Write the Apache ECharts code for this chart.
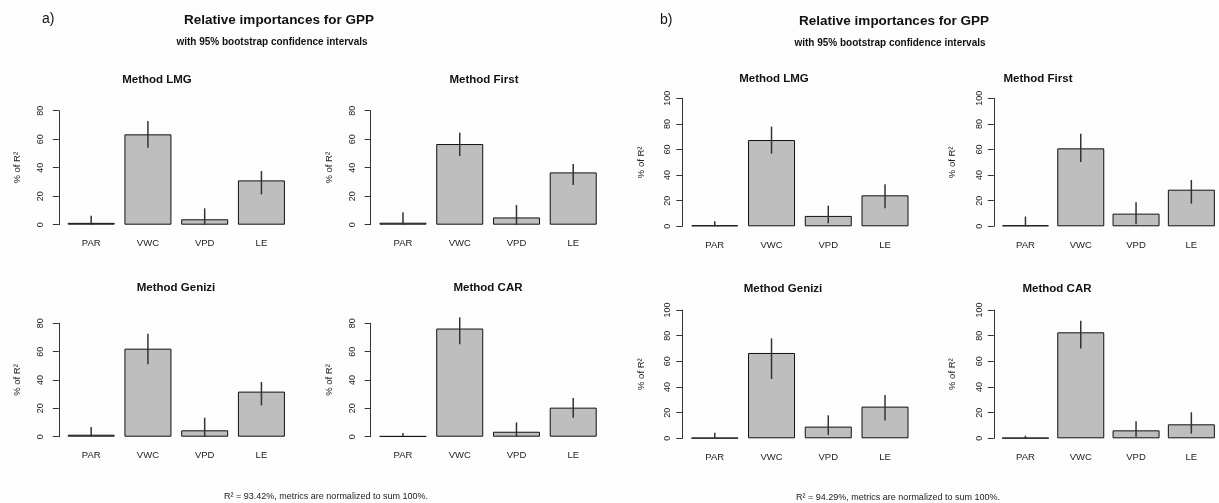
<!DOCTYPE html>
<html>
<head>
<meta charset="utf-8">
<script src="https://cdn.jsdelivr.net/npm/echarts@6/dist/echarts.min.js"></script>
<style>
html,body{margin:0;padding:0;background:#fdfdfd;}
#chart{width:1219px;height:503px;}
</style>
</head>
<body>
<div id="chart"></div>
<script>
// ---- data ----
const categories = ['PAR', 'VWC', 'VPD', 'LE'];
const yTicksA = [0, 20, 40, 60, 80];
const yTicksB = [0, 20, 40, 60, 80, 100];

// panel a)
const aLMG      = [1.3, 63.4, 3.8, 31.1];
const aLMGLow   = [0, 54.0, 0, 21.3];
const aLMGHigh  = [6.3, 72.8, 11.5, 37.7];
const aFirst     = [1.4, 56.6, 5.1, 36.7];
const aFirstLow  = [0, 48.2, 0, 27.8];
const aFirstHigh = [8.7, 64.6, 13.8, 42.6];
const aGenizi     = [1.4, 62.1, 4.5, 31.8];
const aGeniziLow  = [0, 51.1, 0, 22.1];
const aGeniziHigh = [6.8, 72.7, 13.4, 38.6];
const aCAR     = [0.4, 76.3, 3.5, 20.5];
const aCARLow  = [0, 65.2, 0, 13.4];
const aCARHigh = [2.6, 84.2, 10.1, 27.3];

// panel b)
const bLMG      = [0.8, 67.4, 8.1, 24.2];
const bLMGLow   = [0, 56.8, 2.3, 14.1];
const bLMGHigh  = [3.9, 77.9, 16.1, 32.8];
const bFirst     = [0.8, 60.9, 9.9, 28.6];
const bFirstLow  = [0, 50.3, 1.6, 17.7];
const bFirstHigh = [7.6, 72.4, 18.8, 36.2];
const bGenizi     = [0.3, 66.5, 9.1, 24.7];
const bGeniziLow  = [0, 46.2, 2.6, 13.8];
const bGeniziHigh = [4.4, 77.9, 17.9, 33.8];
const bCAR     = [0.3, 82.6, 6.2, 10.9];
const bCARLow  = [0, 69.9, 1.3, 3.6];
const bCARHigh = [2.0, 91.7, 13.2, 20.3];

const mainTitle = 'Relative importances for GPP';
const subTitle = 'with 95% bootstrap confidence intervals';
const footA = 'R² = 93.42%, metrics are normalized to sum 100%.';
const footB = 'R² = 94.29%, metrics are normalized to sum 100%.';
const yName = '% of R²';

// ---- layout ----
const panels = [
  {name: 'Method LMG',    v: aLMG,    lo: aLMGLow,    hi: aLMGHigh,    ticks: yTicksA, left: 62.8,  top: 110.7, h: 114,   tx: 152,  ty: 75,  lm: 14},
  {name: 'Method First',  v: aFirst,  lo: aFirstLow,  hi: aFirstHigh,  ticks: yTicksA, left: 374.6, top: 110.7, h: 114,   tx: 479,  ty: 75,  lm: 14},
  {name: 'Method Genizi', v: aGenizi, lo: aGeniziLow, hi: aGeniziHigh, ticks: yTicksA, left: 62.8,  top: 323.3, h: 113.4, tx: 171,  ty: 283, lm: 14},
  {name: 'Method CAR',    v: aCAR,    lo: aCARLow,    hi: aCARHigh,    ticks: yTicksA, left: 374.6, top: 323.3, h: 113.4, tx: 483,  ty: 283, lm: 14},
  {name: 'Method LMG',    v: bLMG,    lo: bLMGLow,    hi: bLMGHigh,    ticks: yTicksB, left: 686.4, top: 98.3,  h: 128,   tx: 769,  ty: 74,  lm: 10},
  {name: 'Method First',  v: bFirst,  lo: bFirstLow,  hi: bFirstHigh,  ticks: yTicksB, left: 997.8, top: 98.3,  h: 128,   tx: 1033, ty: 74,  lm: 10},
  {name: 'Method Genizi', v: bGenizi, lo: bGeniziLow, hi: bGeniziHigh, ticks: yTicksB, left: 686.4, top: 310,   h: 128.3, tx: 778,  ty: 284, lm: 10},
  {name: 'Method CAR',    v: bCAR,    lo: bCARLow,    hi: bCARHigh,    ticks: yTicksB, left: 997.8, top: 310,   h: 128.3, tx: 1052, ty: 284, lm: 10}
];

const FONT = 'Liberation Sans, Arial, Helvetica, sans-serif';
const grids = [], xAxes = [], yAxes = [], series = [];
const titles = [
  {text: 'a)', left: 37, top: 7, textStyle: {fontSize: 14, fontWeight: 'normal', color: '#111', fontFamily: FONT}},
  {text: 'b)', left: 655, top: 8, textStyle: {fontSize: 14, fontWeight: 'normal', color: '#111', fontFamily: FONT}},
  {text: mainTitle, left: 274, top: 8, textAlign: 'center', textStyle: {fontSize: 13.5, fontWeight: 'bold', color: '#111', fontFamily: FONT}},
  {text: mainTitle, left: 889, top: 9, textAlign: 'center', textStyle: {fontSize: 13.5, fontWeight: 'bold', color: '#111', fontFamily: FONT}},
  {text: subTitle, left: 267, top: 32, textAlign: 'center', textStyle: {fontSize: 10, fontWeight: 'bold', color: '#111', fontFamily: FONT}},
  {text: subTitle, left: 885, top: 33, textAlign: 'center', textStyle: {fontSize: 10, fontWeight: 'bold', color: '#111', fontFamily: FONT}},
  {text: footA, left: 321, top: 487, textAlign: 'center', textStyle: {fontSize: 9, fontWeight: 'normal', color: '#222', fontFamily: FONT}},
  {text: footB, left: 893, top: 488, textAlign: 'center', textStyle: {fontSize: 9, fontWeight: 'normal', color: '#222', fontFamily: FONT}}
];

panels.forEach((p, i) => {
  const ymax = p.ticks[p.ticks.length - 1];
  grids.push({left: p.left, top: p.top, width: 227, height: p.h, containLabel: false});
  titles.push({text: p.name, left: p.tx, top: p.ty - 6, textAlign: 'center',
    textStyle: {fontSize: 11.5, fontWeight: 'bold', color: '#111', fontFamily: FONT}});
  xAxes.push({type: 'category', gridIndex: i, data: categories,
    axisLine: {show: false}, axisTick: {show: false},
    axisLabel: {margin: 14, fontSize: 9.5, color: '#222', fontFamily: FONT}});
  yAxes.push({type: 'value', gridIndex: i, min: p.ticks[0], max: ymax, interval: p.ticks[1] - p.ticks[0],
    offset: 4,
    name: yName, nameLocation: 'middle', nameRotate: 90, nameGap: 36,
    nameTextStyle: {fontSize: 9.5, color: '#222', fontFamily: FONT},
    axisLine: {show: true, lineStyle: {color: '#333', width: 1}},
    axisTick: {show: true, length: 6, lineStyle: {color: '#333', width: 1}},
    axisLabel: {rotate: 90, margin: p.lm, fontSize: 9, color: '#222', fontFamily: FONT},
    splitLine: {show: false}});
  series.push({type: 'bar', xAxisIndex: i, yAxisIndex: i, data: p.v, barWidth: 47,
    itemStyle: {color: '#bebebe', borderColor: '#111', borderWidth: 1}, silent: true, animation: false});
  series.push({type: 'custom', xAxisIndex: i, yAxisIndex: i, clip: false, silent: true, animation: false, z: 5,
    data: categories.map((c, k) => [k, p.lo[k], p.hi[k]]),
    renderItem: function (params, api) {
      const a = api.coord([api.value(0), api.value(1)]);
      const b = api.coord([api.value(0), api.value(2)]);
      return {type: 'line', shape: {x1: a[0], y1: a[1], x2: b[0], y2: b[1]},
        style: {stroke: '#333', lineWidth: 1.5}};
    }});
});

const chart = echarts.init(document.getElementById('chart'), null, {renderer: 'canvas'});
chart.setOption({
  backgroundColor: '#fdfdfd',
  animation: false,
  title: titles,
  grid: grids,
  xAxis: xAxes,
  yAxis: yAxes,
  series: series
});
</script>
</body>
</html>
